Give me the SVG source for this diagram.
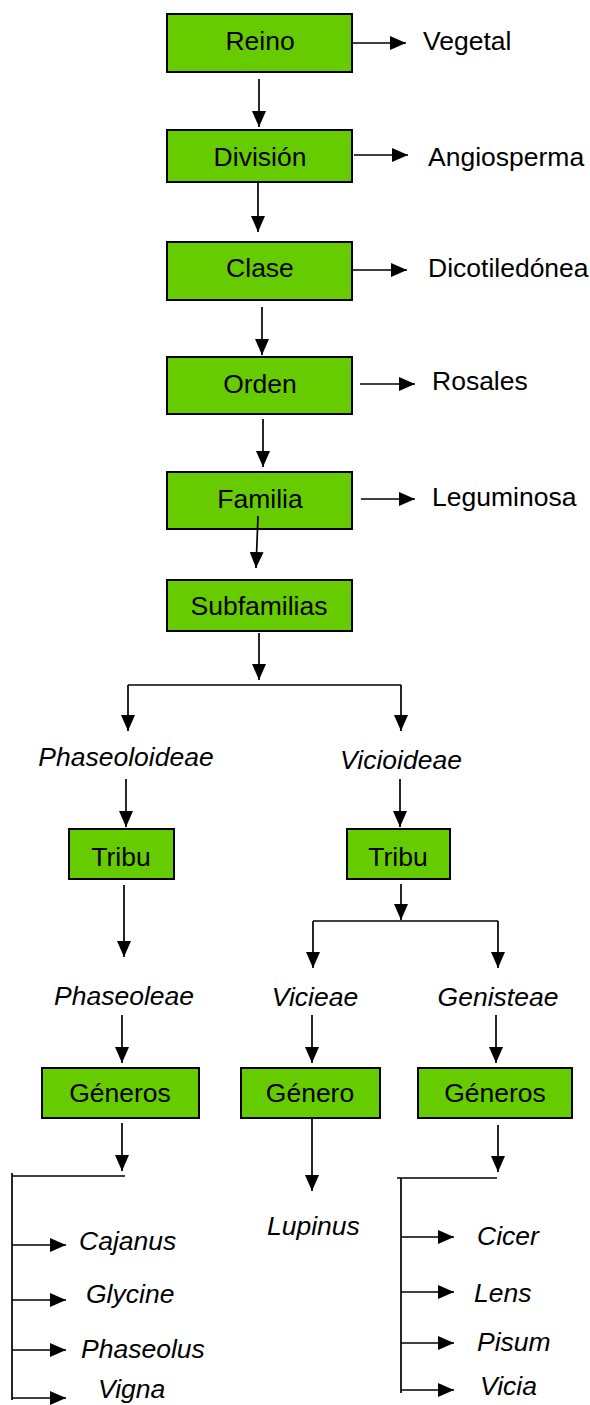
<svg xmlns="http://www.w3.org/2000/svg" width="590" height="1405" viewBox="0 0 590 1405">
<style>
.box{fill:#66CC00;stroke:#000;stroke-width:2}
.t{font-family:"Liberation Sans",Arial,sans-serif;font-size:26.5px;fill:#000}
.c{text-anchor:middle}
.i{font-style:italic}
.ln{fill:none;stroke:#000;stroke-width:1.7}
.a{marker-end:url(#ah)}
</style>
<defs>
<marker id="ah" viewBox="0 0 16 14" refX="16" refY="7" markerWidth="16" markerHeight="14" markerUnits="userSpaceOnUse" orient="auto">
<path d="M0,0 L16,7 L0,14 Z" fill="#000"/>
</marker>
</defs>
<rect width="590" height="1405" fill="#fff"/>
<g id="reino"><rect class="box" x="167" y="14" width="185" height="58"/><text class="t c" x="260" y="50">Reino</text></g>
<g id="division"><rect class="box" x="167" y="130" width="185" height="52"/><text class="t c" x="260" y="166">División</text></g>
<g id="clase"><rect class="box" x="167" y="242" width="185" height="58"/><text class="t c" x="260" y="277">Clase</text></g>
<g id="orden"><rect class="box" x="167" y="357" width="185" height="57"/><text class="t c" x="260" y="393">Orden</text></g>
<g id="familia"><rect class="box" x="167" y="472" width="185" height="57"/><text class="t c" x="260" y="508">Familia</text></g>
<g id="subfamilias"><rect class="box" x="167" y="580" width="185" height="51"/><text class="t c" x="259" y="615">Subfamilias</text></g>
<g id="vegetal"><text class="t" x="423" y="50">Vegetal</text></g>
<g id="angiosperma"><text class="t" x="428" y="166">Angiosperma</text></g>
<g id="dicotiledonea"><text class="t" x="428" y="277">Dicotiledónea</text></g>
<g id="rosales"><text class="t" x="432" y="390">Rosales</text></g>
<g id="leguminosa"><text class="t" x="432" y="506">Leguminosa</text></g>
<g id="phaseoloideae"><text class="t c i" x="126" y="766">Phaseoloideae</text></g>
<g id="vicioideae"><text class="t c i" x="401" y="769">Vicioideae</text></g>
<g id="tribu1"><rect class="box" x="69" y="829" width="105" height="50"/><text class="t c" x="121" y="866">Tribu</text></g>
<g id="tribu2"><rect class="box" x="347" y="829" width="103" height="50"/><text class="t c" x="398" y="866">Tribu</text></g>
<g id="phaseoleae"><text class="t c i" x="124" y="1005">Phaseoleae</text></g>
<g id="vicieae"><text class="t c i" x="315" y="1006">Vicieae</text></g>
<g id="genisteae"><text class="t c i" x="498" y="1006">Genisteae</text></g>
<g id="generos1"><rect class="box" x="42" y="1068" width="157" height="50"/><text class="t c" x="120" y="1102">Géneros</text></g>
<g id="genero"><rect class="box" x="241" y="1068" width="139" height="50"/><text class="t c" x="310" y="1102">Género</text></g>
<g id="generos2"><rect class="box" x="418" y="1068" width="154" height="50"/><text class="t c" x="495" y="1102">Géneros</text></g>
<g id="lupinus"><text class="t i" x="267" y="1235">Lupinus</text></g>
<g id="cajanus"><text class="t i" x="79" y="1250">Cajanus</text></g>
<g id="glycine"><text class="t i" x="86" y="1303">Glycine</text></g>
<g id="phaseolus"><text class="t i" x="81" y="1358">Phaseolus</text></g>
<g id="vigna"><text class="t i" x="98" y="1398">Vigna</text></g>
<g id="cicer"><text class="t i" x="477" y="1245">Cicer</text></g>
<g id="lens"><text class="t i" x="474" y="1302">Lens</text></g>
<g id="pisum"><text class="t i" x="477" y="1351">Pisum</text></g>
<g id="vicia"><text class="t i" x="480" y="1395">Vicia</text></g>
<g id="connectors">
<path class="ln a" d="M353,43 H406"/>
<path class="ln a" d="M354,155 H408"/>
<path class="ln a" d="M353,270 H407"/>
<path class="ln a" d="M360,384 H415"/>
<path class="ln a" d="M361,499 H415"/>
<path class="ln a" d="M259,79 V127"/>
<path class="ln a" d="M258,182 V232"/>
<path class="ln a" d="M262,307 V355"/>
<path class="ln a" d="M263,419 V467"/>
<path class="ln a" d="M258,516 L256,568"/>
<path class="ln a" d="M259,633 V680"/>
<path class="ln" d="M128,685 H401"/>
<path class="ln a" d="M128,685 V731"/>
<path class="ln a" d="M401,685 V731"/>
<path class="ln a" d="M126,779 V827"/>
<path class="ln a" d="M124,885 V957"/>
<path class="ln a" d="M122,1015 V1063"/>
<path class="ln a" d="M400,779 V827"/>
<path class="ln a" d="M401,884 V920"/>
<path class="ln" d="M313,921 H498"/>
<path class="ln a" d="M313,921 V968"/>
<path class="ln a" d="M498,921 V968"/>
<path class="ln a" d="M312,1015 V1063"/>
<path class="ln a" d="M496,1015 V1063"/>
<path class="ln a" d="M122,1123 V1171"/>
<path class="ln" d="M12,1176 H125"/>
<path class="ln" d="M12,1173 V1400"/>
<path class="ln a" d="M12,1245 H66"/>
<path class="ln a" d="M12,1300 H66"/>
<path class="ln a" d="M12,1350 H66"/>
<path class="ln a" d="M12,1398 H66"/>
<path class="ln a" d="M312,1118 V1191"/>
<path class="ln a" d="M498,1125 V1172"/>
<path class="ln" d="M397,1178 H497"/>
<path class="ln" d="M401,1178 V1393"/>
<path class="ln a" d="M401,1237 H454"/>
<path class="ln a" d="M401,1292 H454"/>
<path class="ln a" d="M401,1343 H454"/>
<path class="ln a" d="M401,1390 H454"/>
</g>
</svg>
